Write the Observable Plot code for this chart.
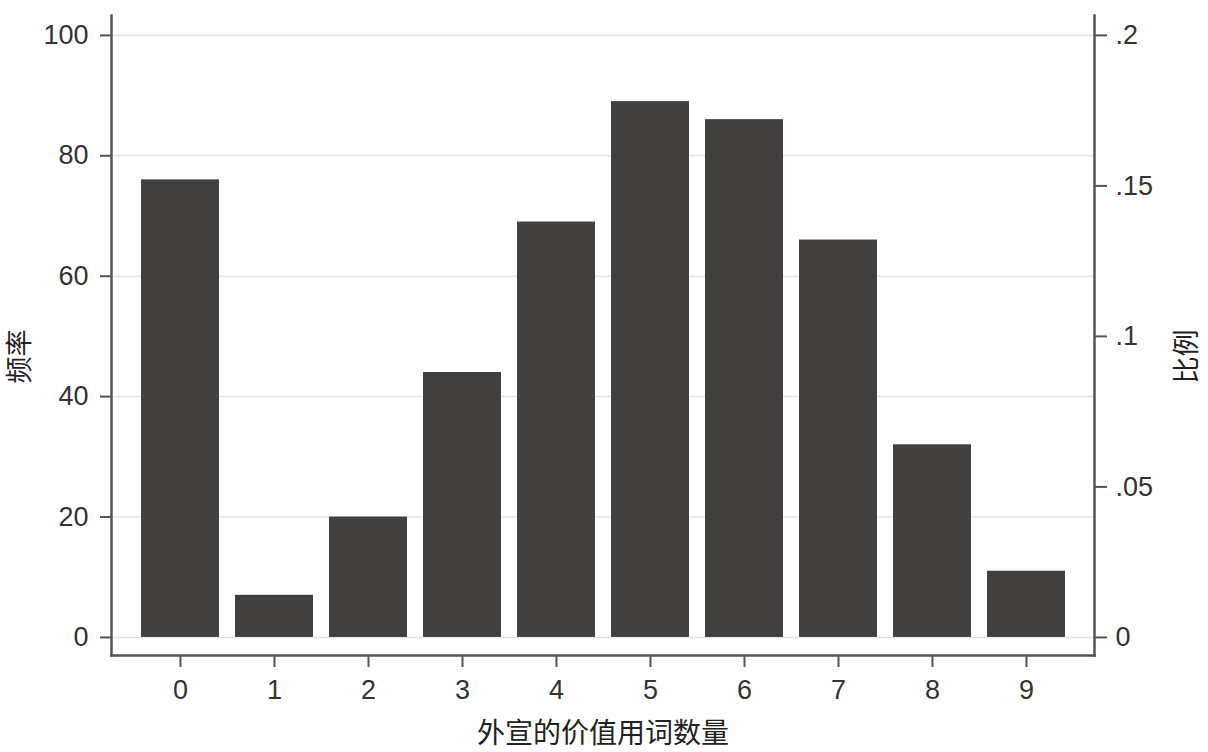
<!DOCTYPE html>
<html>
<head>
<meta charset="utf-8">
<script src="https://cdn.jsdelivr.net/npm/d3@7"></script>
<script src="https://cdn.jsdelivr.net/npm/@observablehq/plot@0.6"></script>
<style>
  html, body { margin: 0; padding: 0; background: #fff; }
</style>
</head>
<body>
<div id="chart"></div>
<script>
const categories = [0, 1, 2, 3, 4, 5, 6, 7, 8, 9];
const counts = [76, 7, 20, 44, 69, 89, 86, 66, 32, 11];
const leftTicks = [0, 20, 40, 60, 80, 100];
const rightTicks = [0, 0.05, 0.1, 0.15, 0.2];
const xTitle = "外宣的价值用词数量";
const leftTitle = "频率";
const rightTitle = "比例";

const total = d3.sum(counts);
const data = categories.map((k, i) => ({k, count: counts[i], share: counts[i] / total}));
const fmtShare = v => v === 0 ? "0" : d3.format(".2~f")(v).replace(/^0\./, ".");

const axisColor = "#555";
const font = "'Liberation Sans', Arial, 'Noto Sans CJK SC', sans-serif";

const chart = Plot.plot({
  width: 1208,
  height: 752,
  marginTop: 15,
  marginBottom: 97,
  marginLeft: 111,
  marginRight: 114,
  style: {fontFamily: font, fontSize: "27px", color: "#333", background: "#fff"},
  x: {type: "band", domain: categories, paddingInner: 0.173, paddingOuter: 0.297, align: 0.5},
  y: {domain: [-3, 103.3]},
  marks: [
    Plot.gridY(leftTicks, {stroke: "#e3e3e3", strokeOpacity: 1, strokeWidth: 1.5}),
    Plot.barY(data, {x: "k", y: "count", fill: "#423f3f"}),
    Plot.frame({anchor: "left", stroke: axisColor, strokeWidth: 2.5}),
    Plot.frame({anchor: "right", stroke: axisColor, strokeWidth: 2.5}),
    Plot.frame({anchor: "bottom", stroke: axisColor, strokeWidth: 2.5}),
    Plot.axisY({anchor: "left", ticks: leftTicks, tickSize: 11, tickPadding: 12, label: null,
      fontSize: 27, stroke: axisColor, strokeWidth: 2, fill: "#333"}),
    Plot.axisY({anchor: "right", ticks: rightTicks.map(p => p * total), tickFormat: v => fmtShare(v / total),
      tickSize: 12, tickPadding: 9, label: null, fontSize: 27, stroke: axisColor, strokeWidth: 2, fill: "#333"}),
    Plot.axisX({anchor: "bottom", tickSize: 12, tickPadding: 12, label: null,
      fontSize: 27, stroke: axisColor, strokeWidth: 2, fill: "#333"}),
    Plot.text([xTitle], {text: d => d, frameAnchor: "bottom", dy: 79, fontSize: 28, fill: "#222", lineAnchor: "middle"}),
    Plot.text([leftTitle], {text: d => d, frameAnchor: "left", dx: -91, dy: 21, rotate: -90, textAnchor: "middle", fontSize: 27, fill: "#222", lineAnchor: "middle"}),
    Plot.text([rightTitle], {text: d => d, frameAnchor: "right", dx: 93, dy: 21, rotate: -90, textAnchor: "middle", fontSize: 27, fill: "#222", lineAnchor: "middle"})
  ]
});
document.getElementById("chart").appendChild(chart);
</script>
</body>
</html>
